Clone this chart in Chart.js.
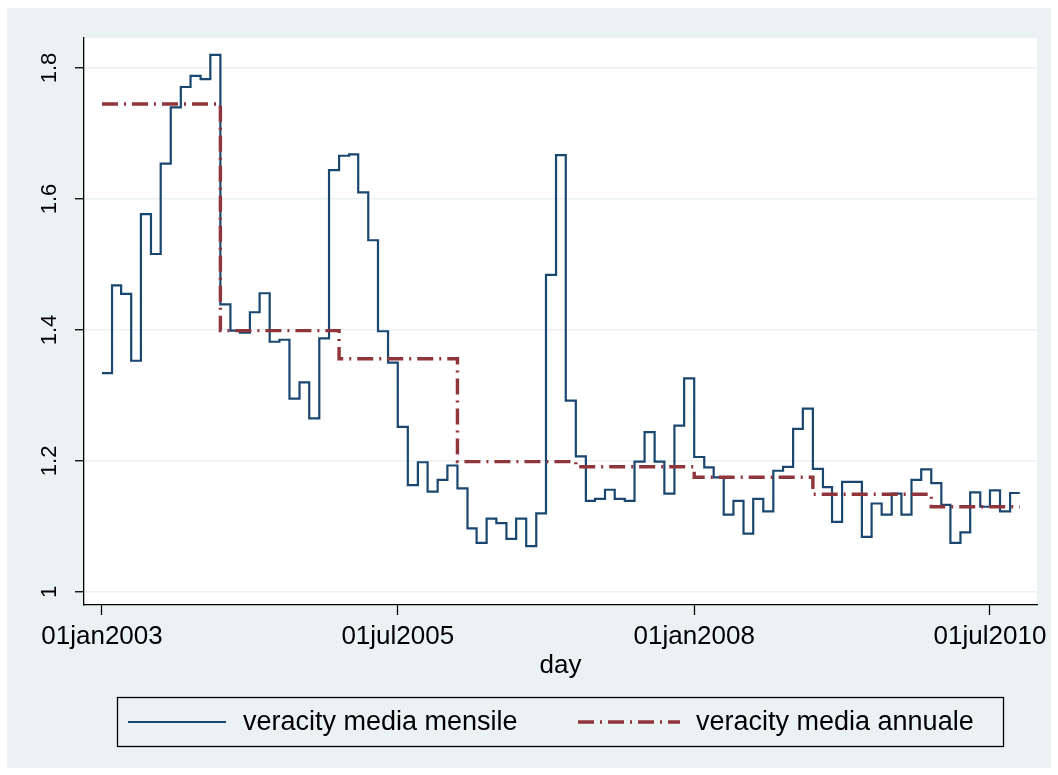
<!DOCTYPE html>
<html>
<head>
<meta charset="utf-8">
<script src="https://cdn.jsdelivr.net/npm/chart.js@4.4.0/dist/chart.umd.min.js"></script>
<style>
  html, body { margin: 0; padding: 0; background: #ffffff; }
  #wrap { position: relative; width: 1058px; height: 775px; }
  canvas { display: block; }
</style>
</head>
<body>
<div id="wrap"><canvas id="chart" width="1058" height="775"></canvas></div>
<script>
// Monthly mean veracity (first day of each month), Jan 2003 - Sep 2010
const months = [
  '2003-01','2003-02','2003-03','2003-04','2003-05','2003-06','2003-07','2003-08','2003-09','2003-10','2003-11','2003-12',
  '2004-01','2004-02','2004-03','2004-04','2004-05','2004-06','2004-07','2004-08','2004-09','2004-10','2004-11','2004-12',
  '2005-01','2005-02','2005-03','2005-04','2005-05','2005-06','2005-07','2005-08','2005-09','2005-10','2005-11','2005-12',
  '2006-01','2006-02','2006-03','2006-04','2006-05','2006-06','2006-07','2006-08','2006-09','2006-10','2006-11','2006-12',
  '2007-01','2007-02','2007-03','2007-04','2007-05','2007-06','2007-07','2007-08','2007-09','2007-10','2007-11','2007-12',
  '2008-01','2008-02','2008-03','2008-04','2008-05','2008-06','2008-07','2008-08','2008-09','2008-10','2008-11','2008-12',
  '2009-01','2009-02','2009-03','2009-04','2009-05','2009-06','2009-07','2009-08','2009-09','2009-10','2009-11','2009-12',
  '2010-01','2010-02','2010-03','2010-04','2010-05','2010-06','2010-07','2010-08','2010-09'
];
const monthlyMean = [
  1.334, 1.468, 1.455, 1.353, 1.577, 1.516, 1.654, 1.740, 1.771, 1.788, 1.783, 1.820,
  1.439, 1.399, 1.396, 1.427, 1.456, 1.382, 1.385, 1.295, 1.320, 1.265, 1.387, 1.644,
  1.666, 1.668, 1.610, 1.537, 1.398, 1.350, 1.252, 1.163, 1.198, 1.153, 1.171, 1.193,
  1.158, 1.097, 1.075, 1.112, 1.105, 1.081, 1.112, 1.070, 1.120, 1.484, 1.667, 1.292,
  1.207, 1.139, 1.142, 1.156, 1.142, 1.139, 1.199, 1.244, 1.199, 1.150, 1.254, 1.326,
  1.206, 1.190, 1.175, 1.118, 1.139, 1.089, 1.142, 1.123, 1.185, 1.191, 1.249, 1.280,
  1.188, 1.160, 1.107, 1.168, 1.168, 1.084, 1.135, 1.118, 1.150, 1.118, 1.171, 1.187,
  1.166, 1.133, 1.075, 1.091, 1.152, 1.130, 1.155, 1.123, 1.151
];

// Yearly mean veracity
const years = [2003, 2004, 2005, 2006, 2007, 2008, 2009, 2010];
const annualMean = [1.745, 1.399, 1.356, 1.199, 1.191, 1.175, 1.149, 1.130];

// Day after the last observation of the daily series
const seriesEnd = '2010-10-01';

// Axis ticks
const xTickDates = ['2003-01-01', '2005-07-01', '2008-01-01', '2010-07-01'];
const yTicks = [1, 1.2, 1.4, 1.6, 1.8];
const xTitle = 'day';
const seriesNames = ['veracity media mensile', 'veracity media annuale'];

// Stata-style elapsed dates: days since 01jan1960
const DAY_MS = 86400000;
const EPOCH = Date.UTC(1960, 0, 1);
function dayNum(iso) {
  const [y, m, d] = iso.split('-').map(Number);
  return (Date.UTC(y, m - 1, d || 1) - EPOCH) / DAY_MS;
}
const MON = ['jan','feb','mar','apr','may','jun','jul','aug','sep','oct','nov','dec'];
function fmtTd(v) {
  const dt = new Date(EPOCH + v * DAY_MS);
  const dd = String(dt.getUTCDate()).padStart(2, '0');
  return dd + MON[dt.getUTCMonth()] + dt.getUTCFullYear();
}

// Each value holds from its start date until the next one begins
const monthlyPoints = months.map((m, i) => ({ x: dayNum(m + '-01'), y: monthlyMean[i] }));
monthlyPoints.push({ x: dayNum(seriesEnd), y: monthlyMean[monthlyMean.length - 1] });
const annualPoints = years.map((y, i) => ({ x: dayNum(y + '-01-01'), y: annualMean[i] }));
annualPoints.push({ x: dayNum(seriesEnd), y: annualMean[annualMean.length - 1] });

const NAVY = '#1a476f';
const MAROON = '#90353b';
const REGION = '#eaf2f3';
const FONT = "'Liberation Sans', Arial, sans-serif";

// Graph region, plot region, rotated y labels, axis title and legend
const stataFrame = {
  id: 'stataFrame',
  beforeDraw(chart) {
    const { ctx, chartArea: a } = chart;
    ctx.save();
    ctx.fillStyle = '#ffffff';
    ctx.fillRect(0, 0, chart.width, chart.height);
    ctx.fillStyle = REGION;
    ctx.fillRect(7, 8, 1044, 760);
    ctx.fillStyle = '#ffffff';
    ctx.fillRect(a.left, a.top, a.right - a.left, a.bottom - a.top);
    ctx.restore();
  },
  afterDraw(chart) {
    const { ctx, chartArea: a } = chart;
    const ys = chart.scales.y;
    ctx.save();
    ctx.fillStyle = '#000';
    ctx.font = '22px ' + FONT;
    ctx.textAlign = 'center';
    ctx.textBaseline = 'alphabetic';
    yTicks.forEach(v => {
      const py = ys.getPixelForValue(v);
      ctx.save();
      ctx.translate(56, py);
      ctx.rotate(-Math.PI / 2);
      ctx.fillText(String(v), 0, 0);
      ctx.restore();
    });

    ctx.font = '26px ' + FONT;
    ctx.textBaseline = 'middle';
    ctx.fillText(xTitle, (a.left + a.right) / 2, 666);

    // legend
    const box = { x: 117.5, y: 697.5, w: 886, h: 49 };
    ctx.strokeStyle = '#000';
    ctx.lineWidth = 1.3;
    ctx.strokeRect(box.x, box.y, box.w, box.h);
    const ly = box.y + box.h / 2;
    const items = [
      { ds: chart.data.datasets[1], x0: 128, x1: 226, tx: 243 },
      { ds: chart.data.datasets[0], x0: 578, x1: 680, tx: 696 }
    ];
    ctx.font = '27px ' + FONT;
    items.forEach(it => {
      ctx.save();
      ctx.strokeStyle = it.ds.borderColor;
      ctx.lineWidth = it.ds.borderWidth;
      ctx.setLineDash(it.ds.borderDash || []);
      ctx.beginPath();
      ctx.moveTo(it.x0, ly);
      ctx.lineTo(it.x1, ly);
      ctx.stroke();
      ctx.restore();
      ctx.textAlign = 'left';
      ctx.fillStyle = '#000';
      ctx.fillText(it.ds.label, it.tx, ly + 1);
    });
    ctx.restore();
  }
};

new Chart(document.getElementById('chart'), {
  type: 'line',
  data: {
    datasets: [
      {
        label: seriesNames[1],
        data: annualPoints,
        stepped: 'before',
        borderColor: MAROON,
        borderWidth: 3.4,
        borderDash: [16, 6, 2, 6],
        pointRadius: 0,
        fill: false,
        order: 0
      },
      {
        label: seriesNames[0],
        data: monthlyPoints,
        stepped: 'before',
        borderColor: NAVY,
        borderWidth: 2.2,
        pointRadius: 0,
        fill: false,
        order: 1
      }
    ]
  },
  options: {
    responsive: false,
    animation: false,
    devicePixelRatio: 1,
    layout: { padding: { left: 0, top: 38, right: 21, bottom: 0 } },
    plugins: { legend: { display: false }, tooltip: { enabled: false } },
    scales: {
      x: {
        type: 'linear',
        min: dayNum('2003-01-01') - 55.5,
        max: dayNum('2003-01-01') + 2883,
        afterBuildTicks: s => { s.ticks = xTickDates.map(d => ({ value: dayNum(d) })); },
        afterFit: s => { s.height = 170; },
        ticks: {
          callback: v => fmtTd(v),
          font: { family: FONT, size: 26 },
          color: '#000',
          maxRotation: 0,
          autoSkip: false,
          padding: 6
        },
        grid: { drawOnChartArea: false, drawTicks: true, tickLength: 10, tickColor: '#000', tickWidth: 1.3 },
        border: { display: true, color: '#000', width: 1.3 }
      },
      y: {
        type: 'linear',
        min: 0.980,
        max: 1.8458,
        afterBuildTicks: s => { s.ticks = yTicks.map(v => ({ value: v })); },
        afterFit: s => { s.width = 84; },
        ticks: { display: false },
        grid: { color: REGION, lineWidth: 1.5, drawTicks: true, tickLength: 9, tickColor: '#000', tickWidth: 1.3 },
        border: { display: true, color: '#000', width: 1.3 }
      }
    }
  },
  plugins: [stataFrame]
});
</script>
</body>
</html>
